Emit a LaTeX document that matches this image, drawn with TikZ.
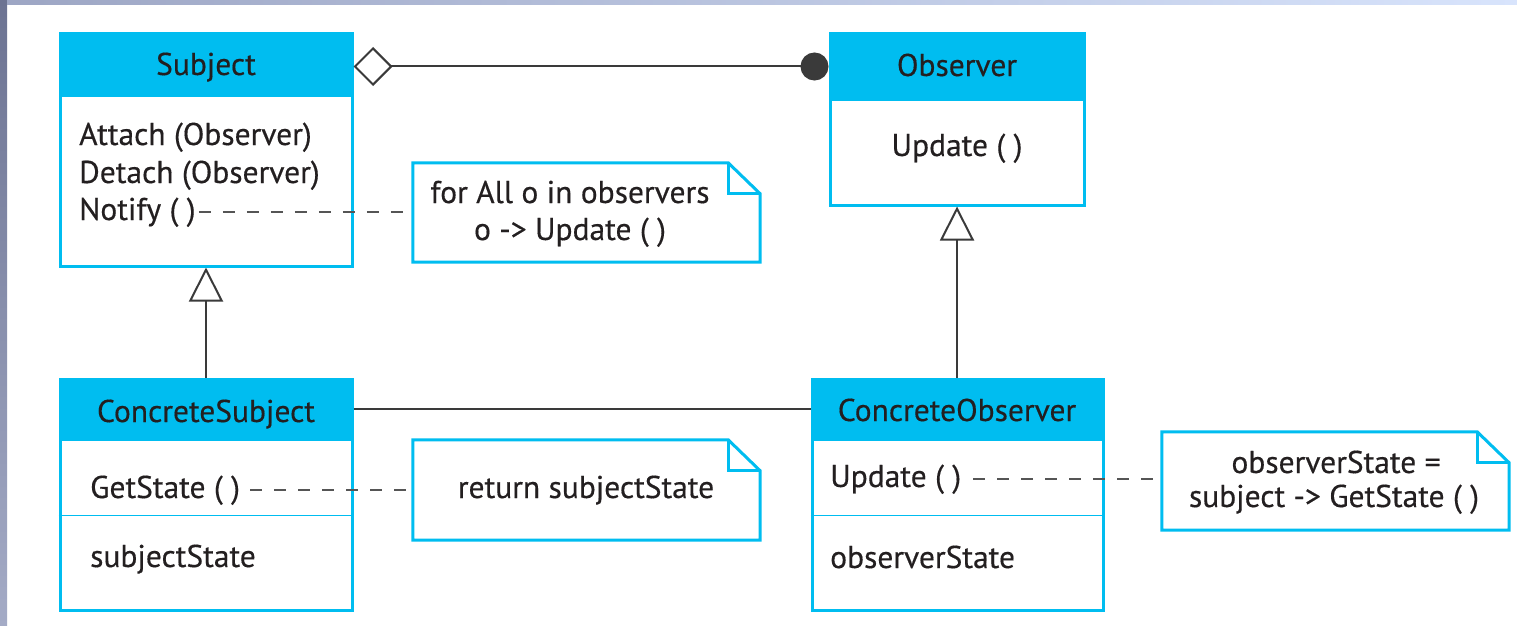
\documentclass[tikz,border=0pt]{standalone}
\usepackage{fontspec}
\setmainfont{PT Sans}[FakeBold=0.4]
\usetikzlibrary{arrows.meta,calc}
\definecolor{umlcyan}{HTML}{00BDF0}
\definecolor{ink}{HTML}{231F20}
\definecolor{linegray}{HTML}{3A3A3A}
\definecolor{dashgray}{HTML}{555555}
\definecolor{slidetopL}{HTML}{9DA6C4}
\definecolor{slidetopR}{HTML}{D8E4FC}
\definecolor{stripTop}{HTML}{6C7392}
\definecolor{stripBot}{HTML}{A4ABC6}
\begin{document}
\begin{tikzpicture}[x=1pt,y=-1pt,
  every node/.style={font=\fontsize{31.5}{38}\selectfont, text=ink, inner sep=0pt},
  classbox/.style={draw=umlcyan, line width=3pt, fill=white},
  notebox/.style={draw=none, fill=white},
  noteline/.style={draw=umlcyan, line width=3pt, line join=miter},
  sepline/.style={draw=umlcyan, line width=1.5pt},
  gen/.style={draw=linegray, line width=2pt, -{Triangle[open, length=34pt, width=34pt, fill=white, line width=2pt]}},
  assoc/.style={draw=linegray, line width=2pt},
  agg/.style={draw=linegray, line width=2pt, {Diamond[open, length=39pt, width=39pt, fill=white, line width=2pt]}-{Circle[length=28pt, width=28pt]}},
  dashline/.style={draw=dashgray, line width=2pt, dash pattern=on 12pt off 12pt}
]
\useasboundingbox (0,0) rectangle (1517,626);
% slide background edges
\fill[white] (0,0) rectangle (1517,626);
\shade[top color=stripTop, bottom color=stripBot] (0,0) rectangle (7,626);
\shade[left color=slidetopL, right color=slidetopR] (7,0) rectangle (1517,5);

% class boxes
\node[classbox, minimum width=292pt, minimum height=232pt] (subj) at (206,150) {};
\node[classbox, minimum width=254pt, minimum height=171pt] (obs) at (957,119.5) {};
\node[classbox, minimum width=292pt, minimum height=231pt] (csub) at (206,494.5) {};
\node[classbox, minimum width=291pt, minimum height=231pt] (cobs) at (957.5,494.5) {};

% headers
\fill[umlcyan] (subj.north west) rectangle ($(subj.north east)+(0,64)$);
\fill[umlcyan] (obs.north west) rectangle ($(obs.north east)+(0,68)$);
\fill[umlcyan] (csub.north west) rectangle ($(csub.north east)+(0,63)$);
\fill[umlcyan] (cobs.north west) rectangle ($(cobs.north east)+(0,63)$);
\draw[sepline] ($(csub.north west)+(0,138)$) -- ($(csub.north east)+(0,138)$);
\draw[sepline] ($(cobs.north west)+(0,138)$) -- ($(cobs.north east)+(0,138)$);

% titles and members
\node[anchor=base] (subjT) at (206,75) {Subject};
\node[anchor=base west] (attach) at (79,145) {Attach (Observer)};
\node[anchor=base west] (detach) at (79,183) {Detach (Observer)};
\node[anchor=base west] (notify) at (79,220) {Notify ( )};

\node[anchor=base] (obsT) at (957,76) {Observer};
\node[anchor=base] (upd1) at (957,156) {Update ( )};

\node[anchor=base] (csubT) at (206,422) {ConcreteSubject};
\node[anchor=base west] (getst) at (90,498) {GetState ( )};
\node[anchor=base west] (substate) at (90,567) {subjectState};

\node[anchor=base] (cobsT) at (957,421) {ConcreteObserver};
\node[anchor=base west] (upd2) at (830,487) {Update ( )};
\node[anchor=base west] (obsstate) at (830,568) {observerState};

% notes
\node[notebox, minimum width=347pt, minimum height=99pt] (n1) at (586.5,212.5) {};
\node[notebox, minimum width=347pt, minimum height=100pt] (n2) at (586.5,490) {};
\node[notebox, minimum width=347pt, minimum height=98pt] (n3) at (1335.5,481) {};
\foreach \n in {n1,n2,n3}{
  \draw[noteline] (\n.north west) -- ($(\n.north east)+(-32,0)$) -- ($(\n.north east)+(0,31)$) -- (\n.south east) -- (\n.south west) -- cycle;
  \draw[noteline] ($(\n.north east)+(-32,0)$) |- ($(\n.north east)+(0,31)$);
}
\node[anchor=base] (n1a) at (570,203) {for All o in observers};
\node[anchor=base] (n1b) at (570,240) {o -> Update ( )};
\node[anchor=base] (n2a) at (586,498) {return subjectState};
\node[anchor=base] (n3a) at (1336,473) {observerState =};
\node[anchor=base] (n3b) at (1334,507) {subject -> GetState ( )};

% connectors
\draw[agg] ($(subj.north east)+(0,34)$) -- ($(obs.north west)+(0,34)$);
\draw[gen] (csub.north) -- (subj.south);
\draw[gen] (obs.south |- cobs.north) -- (obs.south);
\draw[assoc] ($(csub.north east)+(0,31.5)$) -- ($(cobs.north west)+(0,31.5)$);
\draw[dashline] ($(notify.east)+(3,0)$) -- (n1.west |- notify.east);
\draw[dashline] ($(getst.east)+(10,0)$) -- (n2.west |- getst.east);
\draw[dashline] ($(upd2.east)+(12,0)$) -- (n3.west |- upd2.east);
\end{tikzpicture}
\end{document}
